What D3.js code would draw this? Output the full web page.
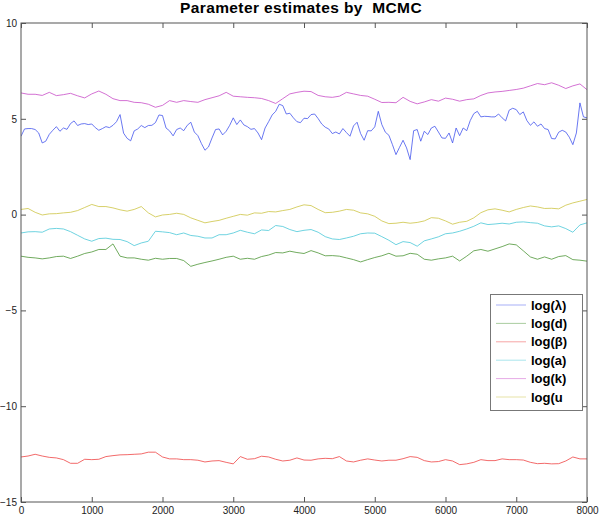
<!DOCTYPE html>
<html>
<head>
<meta charset="utf-8">
<script src="https://cdn.jsdelivr.net/npm/d3@7"></script>
<style>
  body { margin: 0; background: #fff; }
  svg { font-family: "Liberation Sans", Arial, Helvetica, sans-serif; }
</style>
</head>
<body>
<svg id="chart" width="600" height="517"></svg>
<script>
// MCMC traces
var blueStep = 50;   // log(lambda) sampled every 50 iterations
var otherStep = 100; // the rest every 100

var logLambda = [4.09,4.47,4.49,4.49,4.44,4.26,3.74,3.83,4.19,4.40,4.59,4.35,4.52,4.45,4.75,4.89,4.65,4.73,4.75,4.70,
  4.73,4.54,4.40,4.49,4.59,4.54,4.66,4.85,5.22,4.25,3.98,3.85,4.37,4.47,4.65,4.54,4.65,4.66,4.80,5.20,
  5.17,4.52,4.37,4.11,4.44,4.52,4.38,4.66,4.82,4.31,4.12,3.71,3.36,3.53,4.00,4.44,4.47,4.16,4.35,4.66,
  5.05,4.70,4.94,4.68,4.59,4.45,4.49,4.26,3.91,4.52,4.85,5.20,5.39,5.76,5.69,5.25,5.29,5.05,4.85,4.80,
  5.03,5.01,5.22,5.25,5.01,4.73,4.56,4.47,4.23,4.31,4.21,4.49,4.28,4.09,4.63,4.82,4.23,3.88,4.38,4.37,
  4.58,5.39,4.70,4.30,4.14,3.65,3.13,3.51,3.88,3.48,2.87,4.38,4.44,3.83,4.35,4.18,4.52,4.61,4.31,4.00,
  3.98,4.26,3.74,4.52,4.12,4.52,4.38,4.91,5.27,5.39,5.10,5.13,5.12,5.10,5.10,5.25,5.05,4.89,5.45,5.55,
  5.48,5.22,5.36,4.91,4.66,4.84,4.61,4.73,4.49,4.44,3.97,3.95,4.30,4.40,4.31,4.04,3.65,4.26,5.83,5.10,5.05];

var logD = [-2.17,-2.23,-2.26,-2.31,-2.26,-2.19,-2.17,-2.29,-2.17,-2.03,-1.95,-1.82,-1.82,-1.53,-2.17,-2.26,-2.26,-2.33,-2.38,-2.28,
  -2.33,-2.29,-2.29,-2.40,-2.70,-2.59,-2.50,-2.42,-2.33,-2.23,-2.17,-2.33,-2.28,-2.33,-2.19,-2.11,-1.98,-2.00,-1.91,-1.98,
  -2.03,-1.88,-2.00,-2.15,-2.14,-2.17,-2.26,-2.35,-2.47,-2.35,-2.24,-2.15,-2.02,-2.17,-2.15,-2.02,-2.07,-2.33,-2.38,-2.31,
  -2.26,-2.17,-2.42,-2.17,-1.89,-1.82,-1.91,-1.79,-1.67,-1.53,-1.58,-1.89,-2.21,-2.33,-2.21,-2.33,-2.19,-2.14,-2.35,-2.38,-2.43];

var logBeta = [-12.65,-12.60,-12.51,-12.60,-12.67,-12.70,-12.79,-12.98,-12.98,-12.77,-12.79,-12.77,-12.63,-12.58,-12.54,-12.53,-12.51,-12.49,-12.40,-12.40,
  -12.65,-12.75,-12.75,-12.79,-12.79,-12.82,-12.91,-12.86,-12.84,-12.93,-13.01,-12.63,-12.77,-12.74,-12.61,-12.65,-12.77,-12.86,-12.82,-12.70,
  -12.81,-12.82,-12.75,-12.72,-12.74,-12.63,-12.86,-12.91,-12.82,-12.75,-12.81,-12.86,-12.82,-12.82,-12.74,-12.63,-12.67,-12.84,-12.91,-12.89,
  -12.79,-12.86,-13.05,-13.01,-12.93,-12.79,-12.84,-12.84,-12.75,-12.79,-12.79,-12.81,-12.93,-13.00,-12.98,-13.01,-13.00,-12.86,-12.65,-12.75,-12.75];

var logA = [-0.96,-0.90,-0.89,-0.92,-0.75,-0.72,-0.75,-0.89,-1.08,-1.27,-1.39,-1.25,-1.23,-1.29,-1.30,-1.41,-1.62,-1.48,-1.39,-0.87,
  -0.90,-0.94,-1.05,-0.96,-1.09,-1.13,-1.22,-1.22,-1.05,-1.05,-0.96,-0.82,-0.92,-1.00,-0.80,-0.83,-0.57,-0.62,-0.78,-0.89,
  -0.82,-0.78,-0.92,-1.15,-1.27,-1.30,-1.22,-1.13,-1.00,-0.96,-0.97,-1.15,-1.34,-1.57,-1.41,-1.46,-1.65,-1.37,-1.27,-1.16,
  -1.00,-0.96,-0.87,-0.75,-0.61,-0.43,-0.52,-0.49,-0.45,-0.49,-0.40,-0.38,-0.42,-0.45,-0.59,-0.64,-0.59,-0.73,-0.92,-0.54,-0.43];

var logK = [6.35,6.28,6.28,6.22,6.38,6.21,6.26,6.33,6.20,6.09,6.30,6.45,6.28,6.05,5.95,5.95,5.86,5.84,5.76,5.60,
  5.70,5.95,5.86,5.95,5.90,5.86,6.00,6.10,6.20,6.38,6.18,6.15,6.12,6.10,6.06,5.95,5.80,6.05,6.30,6.38,
  6.44,6.42,6.22,6.15,6.12,6.18,6.38,6.30,6.22,6.18,6.02,5.85,5.86,5.84,6.12,5.91,5.78,5.88,6.00,5.92,
  6.08,6.02,5.92,6.00,6.04,6.22,6.35,6.40,6.43,6.48,6.53,6.60,6.72,6.84,6.78,6.88,6.75,6.58,6.72,6.82,6.52];

var logU = [0.27,0.32,0.12,-0.02,0.04,0.05,0.09,0.12,0.21,0.37,0.53,0.42,0.42,0.35,0.25,0.18,0.27,0.42,0.09,-0.12,
  -0.02,0.01,0.07,0.01,-0.17,-0.30,-0.43,-0.36,-0.30,-0.19,-0.09,0.01,-0.03,0.09,0.07,0.16,0.14,0.21,0.27,0.40,
  0.51,0.47,0.27,0.10,0.12,0.18,0.27,0.23,0.09,0.04,-0.09,-0.33,-0.47,-0.45,-0.40,-0.45,-0.41,-0.33,-0.16,-0.19,
  -0.33,-0.50,-0.40,-0.35,-0.17,0.10,0.25,0.30,0.23,0.14,0.27,0.37,0.45,0.40,0.32,0.33,0.30,0.49,0.61,0.70,0.79];

var legendLabels = ["log(\u03bb)", "log(d)", "log(\u03b2)", "log(a)", "log(k)", "log(u"];
var xTicks = [0, 1000, 2000, 3000, 4000, 5000, 6000, 7000, 8000];
var yTicks = [-15, -10, -5, 0, 5, 10];

var series = [
  { values: logLambda, step: blueStep, color: "#4456ee" },
  { values: logD, step: otherStep, color: "#4c9636" },
  { values: logBeta, step: otherStep, color: "#ef4444" },
  { values: logA, step: otherStep, color: "#4ac8d8" },
  { values: logK, step: otherStep, color: "#c84cc8" },
  { values: logU, step: otherStep, color: "#cdc444" }
];

var svg = d3.select("#chart");
var box = { left: 21, right: 587, top: 23, bottom: 502 };

var x = d3.scaleLinear().domain([0, 8000]).range([box.left, box.right]);
var y = d3.scaleLinear().domain([-15, 10]).range([box.bottom, box.top]);

// title (keeps the double space)
svg.append("text")
  .attr("x", 301)
  .attr("y", 13)
  .attr("text-anchor", "middle")
  .style("font-weight", "bold")
  .style("font-size", "15.5px")
  .style("letter-spacing", "0.4px")
  .style("white-space", "pre")
  .text("Parameter estimates by  MCMC");

// traces
svg.append("clipPath").attr("id", "clip")
  .append("rect")
  .attr("x", box.left).attr("y", box.top)
  .attr("width", box.right - box.left).attr("height", box.bottom - box.top);

var plot = svg.append("g").attr("clip-path", "url(#clip)");

series.forEach(function(s) {
  var line = d3.line()
    .x(function(d, i) { return x(i * s.step); })
    .y(function(d) { return y(d); });
  plot.append("path")
    .attr("d", line(s.values))
    .attr("fill", "none")
    .attr("stroke", s.color)
    .attr("stroke-width", 0.8)
    .attr("stroke-linejoin", "round");
});

// axes, MATLAB style: ticks inside on every side
var axisColor = "#555";
function styleAxis(g) {
  g.select(".domain").remove();
  g.selectAll(".tick line").attr("stroke", axisColor);
  g.selectAll(".tick text")
    .attr("fill", "#222")
    .style("font-size", "10px")
    .style("font-family", "'Liberation Sans', Arial, sans-serif");
}

svg.append("g")
  .attr("transform", "translate(0," + box.bottom + ")")
  .call(d3.axisBottom(x).tickValues(xTicks).tickSize(-5).tickPadding(5).tickFormat(d3.format("d")))
  .call(styleAxis);

svg.append("g")
  .attr("transform", "translate(0," + box.top + ")")
  .call(d3.axisTop(x).tickValues(xTicks).tickSize(-5).tickFormat(""))
  .call(styleAxis);

svg.append("g")
  .attr("transform", "translate(" + box.left + ",0)")
  .call(d3.axisLeft(y).tickValues(yTicks).tickSize(-5).tickPadding(4).tickFormat(d3.format("d")))
  .call(styleAxis);

svg.append("g")
  .attr("transform", "translate(" + box.right + ",0)")
  .call(d3.axisRight(y).tickValues(yTicks).tickSize(-5).tickFormat(""))
  .call(styleAxis);

svg.append("rect")
  .attr("x", box.left).attr("y", box.top)
  .attr("width", box.right - box.left).attr("height", box.bottom - box.top)
  .attr("fill", "none")
  .attr("stroke", axisColor)
  .attr("stroke-width", 1);

// legend
var legend = svg.append("g");
legend.append("rect")
  .attr("x", 490.5).attr("y", 294.5)
  .attr("width", 92).attr("height", 116)
  .attr("fill", "#fff")
  .attr("stroke", "#777");

var rowY = d3.scaleLinear().domain([0, 5]).range([305, 397]);
series.forEach(function(s, i) {
  legend.append("line")
    .attr("x1", 496).attr("x2", 526)
    .attr("y1", rowY(i)).attr("y2", rowY(i))
    .attr("stroke", s.color)
    .attr("stroke-opacity", 0.6)
    .attr("stroke-width", 0.8);
  legend.append("text")
    .attr("x", 531)
    .attr("y", rowY(i))
    .attr("dy", "0.35em")
    .style("font-weight", "bold")
    .style("font-size", "13px")
    .text(legendLabels[i]);
});
</script>
</body>
</html>
